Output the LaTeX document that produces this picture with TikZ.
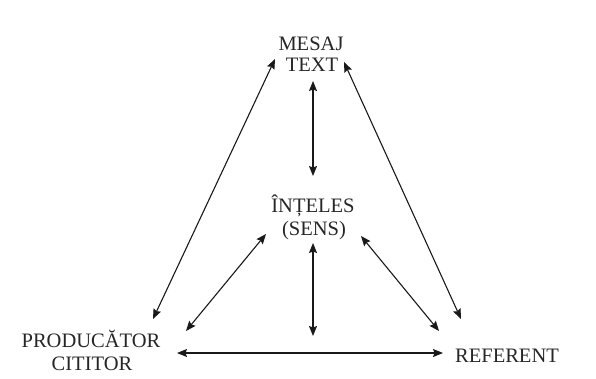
\documentclass[tikz,border=0pt]{standalone}
\usepackage{fontspec}
\setmainfont{Liberation Serif}
\usetikzlibrary{arrows.meta}
\begin{document}
\begin{tikzpicture}[x=1bp,y=-1bp,
  lbl/.style={inner sep=0pt,anchor=base,font=\fontsize{20.6}{21}\selectfont,text=black!85},
  link/.style={{Stealth[length=10bp,width=8bp,inset=1.5bp]}-{Stealth[length=10bp,width=8bp,inset=1.5bp]},line width=1.1bp,black!90}]
\useasboundingbox (0,0) rectangle (596,378);
% labels
\node[lbl] (mesaj) at (311,50) {MESAJ};
\node[lbl] (text) at (312,71) {TEXT};
\node[lbl] (intel) at (313,212) {ÎNȚELES};
\node[lbl] (sens) at (314,235) {(SENS)};
\node[lbl] (prod) at (91,347) {PRODUCĂTOR};
\node[lbl] (cit) at (92,370) {CITITOR};
\node[lbl] (ref) at (507,362) {REFERENT};
% arrow end points
\coordinate (tl) at (275,59);
\coordinate (bl) at (153,319);
\coordinate (tr) at (344,62);
\coordinate (br) at (461,319);
\coordinate (tv1) at (313,81);
\coordinate (tv2) at (313,176);
\coordinate (ml1) at (266,234);
\coordinate (ml2) at (186,331);
\coordinate (bv1) at (313,243);
\coordinate (bv2) at (313,336);
\coordinate (mr1) at (361,236);
\coordinate (mr2) at (439,331);
\coordinate (h1) at (177,353);
\coordinate (h2) at (443,353);
% connectors
\draw[link] (tl) -- (bl);
\draw[link] (tr) -- (br);
\draw[link] (tv1) -- (tv2);
\draw[link] (ml1) -- (ml2);
\draw[link] (bv1) -- (bv2);
\draw[link] (mr1) -- (mr2);
\draw[link] (h1) -- (h2);
\end{tikzpicture}
\end{document}
